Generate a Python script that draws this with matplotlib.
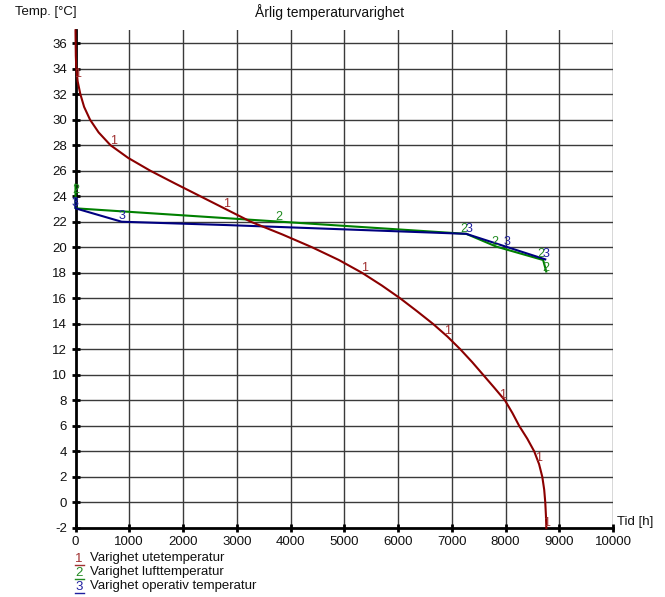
import matplotlib
matplotlib.use("Agg")
import matplotlib.pyplot as plt
from matplotlib.lines import Line2D

plt.rcParams['font.family'] = ['Liberation Sans', 'DejaVu Sans']

# ---- data ----
ute_t = [0, 3, 6, 15, 40, 90, 160, 270, 430, 650, 980, 1390, 1850, 2320, 2790, 3260,
         3850, 4400, 4900, 5330, 5700, 6040, 6350, 6650, 6920, 7160, 7380, 7585, 7790,
         7990, 8130, 8255, 8405, 8535, 8625, 8685, 8720, 8740, 8752, 8760]
ute_v = [37, 36, 35, 34, 33, 32, 31, 30, 29, 28, 27, 26, 25, 24, 23, 22,
         21, 20, 19, 18, 17, 16, 15, 14, 13, 12, 11, 10, 9,
         8, 7, 6, 5, 4, 3, 2, 1, 0, -1, -2]

luft_t = [0, 0, 7270, 7829, 8700, 8758]
luft_v = [24.9, 23.05, 21.05, 20.05, 19.0, 18.1]

op_t = [0, 0, 858, 2872, 5660, 7270, 8740]
op_v = [23.8, 23.05, 22.0, 21.73, 21.3, 21.05, 19.05]

# curve marker labels (anchor points along each curve)
lab1 = [(40, 33.6), (700, 28.3), (2810, 23.4), (5381, 18.35), (6930, 13.4),
        (7940, 8.4), (8620, 3.46), (8758, -1.6)]
lab2 = [(0, 24.5), (3788, 22.4), (7225, 21.45), (7797, 20.45), (8650, 19.5), (8745, 18.4)]
lab3 = [(0, 23.45), (858, 22.45), (7330, 21.4), (8020, 20.4), (8760, 19.5)]

series_names = ["Varighet utetemperatur", "Varighet lufttemperatur", "Varighet operativ temperatur"]
colors = ["#8b0000", "#008000", "#000080"]
label_colors = ["#a03030", "#228b22", "#2020a0"]

xticks = list(range(0, 10001, 1000))
yticks = list(range(-2, 37, 2))

# ---- figure ----
W, H = 665, 597
fig = plt.figure(figsize=(W / 100, H / 100), dpi=100)
x0, x1 = 75.5, 613.0
yb, yt = 528.0, 30.3
ax = fig.add_axes([x0 / W, 1 - yb / H, (x1 - x0) / W, (yb - yt) / H])
ax.set_xlim(0, 10000)
ax.set_ylim(-2, 37)

for s in ['top', 'right']:
    ax.spines[s].set_visible(False)
for s in ['left', 'bottom']:
    ax.spines[s].set_linewidth(2)
    ax.spines[s].set_color('black')

ax.set_xticks(xticks)
ax.set_yticks(yticks)
ax.tick_params(direction='inout', length=6, width=2, color='black',
               labelsize=9.5, labelcolor='#111111', pad=3)
ax.set_xticklabels([str(v) for v in xticks])
ax.set_yticklabels([str(v) for v in yticks])

for xv in xticks[1:]:
    ax.axvline(xv, color='#3a3a3a', lw=1.0, zorder=1)
for yv in yticks[1:]:
    ax.axhline(yv, color='#3a3a3a', lw=1.0, zorder=1)

ax.plot(luft_t, luft_v, color=colors[1], lw=1.5, zorder=3, clip_on=False)
ax.plot(op_t, op_v, color=colors[2], lw=1.5, zorder=4, clip_on=False)
ax.plot(ute_t, ute_v, color=colors[0], lw=1.5, zorder=5, clip_on=False,
        solid_joinstyle='round')

for labs, num, c in [(lab1, "1", label_colors[0]), (lab2, "2", label_colors[1]), (lab3, "3", label_colors[2])]:
    for (tx, ty) in labs:
        ax.text(tx, ty, num, color=c, fontsize=9, ha='center', va='center', zorder=6, clip_on=False)

# titles / axis labels
fig.text(330 / W, 1 - 11.7 / H, "Årlig temperaturvarighet", ha='center', va='center',
         fontsize=10, color='#111111')
fig.text(15 / W, 1 - 12 / H, "Temp. [°C]", ha='left', va='center', fontsize=9.5, color='#111111')
fig.text(617 / W, 1 - 522 / H, "Tid [h]", ha='left', va='center', fontsize=9.5, color='#111111')

# legend
leg_y = [558.5, 572.5, 586.5]
for i, (name, c, lc) in enumerate(zip(series_names, colors, label_colors)):
    yy = leg_y[i]
    fig.text(79 / W, 1 - yy / H, str(i + 1), ha='center', va='center', fontsize=9.5, color=lc)
    fig.add_artist(Line2D([74.5 / W, 84 / W], [1 - (yy + 6) / H, 1 - (yy + 6) / H],
                          color=lc, lw=1.0))
    fig.text(90 / W, 1 - yy / H, name, ha='left', va='center', fontsize=9.5, color='#111111')

fig.savefig("out.png", dpi=100)
